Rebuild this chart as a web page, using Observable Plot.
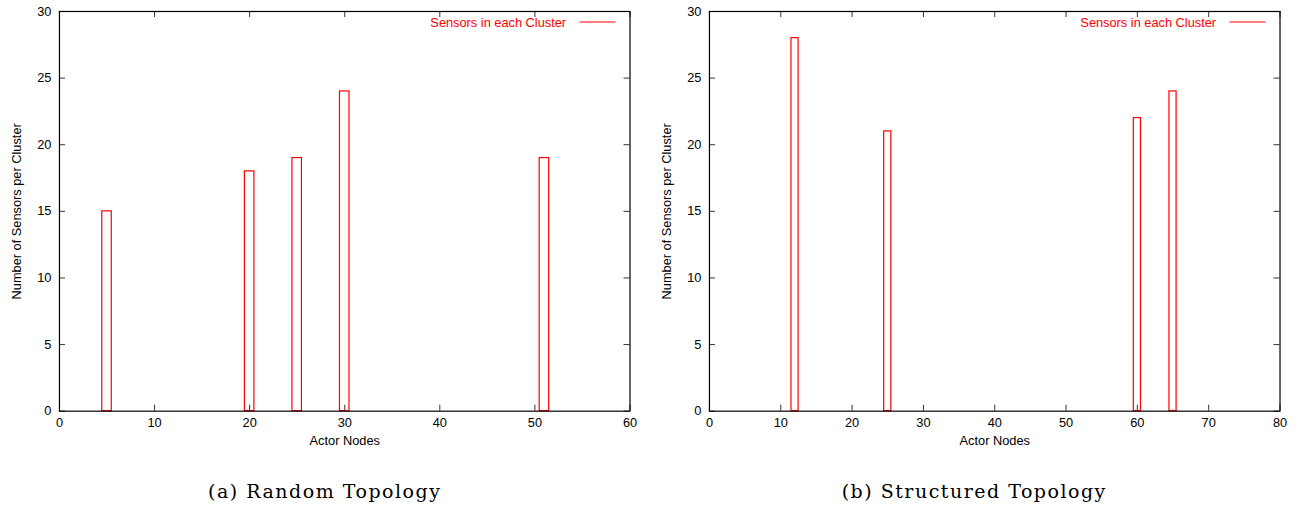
<!DOCTYPE html>
<html><head><meta charset="utf-8">
<script src="https://cdn.jsdelivr.net/npm/d3@7"></script>
<script src="https://cdn.jsdelivr.net/npm/@observablehq/plot@0.6"></script>
<style>
body{margin:0;background:#fff;}
#wrap{display:flex;width:1299px;height:508px;}
.panel{width:649.5px;flex:none;}
.panel svg{display:block;}
.cap{font-family:"DejaVu Serif","Liberation Serif",serif;font-size:19px;letter-spacing:1.5px;line-height:24px;padding-top:19px;text-align:center;color:#000;}
</style></head><body><div id="wrap"></div>
<script>
const randomActors = [5, 20, 25, 30, 51];
const randomSensors = [15, 18, 19, 24, 19];
const structuredActors = [12, 25, 60, 65];
const structuredSensors = [28, 21, 22, 24];
const randomXTicks = [0, 10, 20, 30, 40, 50, 60];
const structuredXTicks = [0, 10, 20, 30, 40, 50, 60, 70, 80];
const yTicks = [0, 5, 10, 15, 20, 25, 30];
const xLabel = "Actor Nodes";
const yLabel = "Number of Sensors per Cluster";
const legendLabel = "Sensors in each Cluster";
const captions = ["(a) Random Topology", "(b) Structured Topology"];

const W = 650, H = 460, mL = 59, mR = 20, mT = 11, mB = 49;
const plotW = W - mL - mR, plotH = H - mT - mB;
const tick = 6;

function panel(actors, sensors, xTicks, caption) {
  const data = actors.map((a, i) => ({actor: a, sensors: sensors[i]}));
  const xMax = xTicks[xTicks.length - 1];
  const yMax = yTicks[yTicks.length - 1];
  const legendLine = (index, scales, values, dims) => {
    const r = dims.width - dims.marginRight;
    return d3.create("svg:line")
      .attr("x1", r - 50).attr("x2", r - 14)
      .attr("y1", dims.marginTop + 11).attr("y2", dims.marginTop + 11)
      .attr("stroke", "red").attr("stroke-width", 1.2).node();
  };
  const chart = Plot.plot({
    width: W, height: H,
    marginLeft: mL, marginRight: mR, marginTop: mT, marginBottom: mB,
    style: {fontFamily: "'Liberation Sans', Arial, sans-serif", fontSize: "12.8px", color: "#000", background: "white"},
    x: {domain: [0, xMax]},
    y: {domain: [0, yMax]},
    marks: [
      Plot.tickX(xTicks, {x: d => d, insetTop: plotH - tick, stroke: "#333"}),
      Plot.tickX(xTicks, {x: d => d, insetBottom: plotH - tick, stroke: "#333"}),
      Plot.tickY(yTicks, {y: d => d, insetRight: plotW - tick, stroke: "#333"}),
      Plot.tickY(yTicks, {y: d => d, insetLeft: plotW - tick, stroke: "#333"}),
      Plot.rectY(data, {x1: d => d.actor - 0.5, x2: d => d.actor + 0.5, y1: 0, y2: "sensors", fill: "none", stroke: "red", strokeWidth: 1.2}),
      Plot.frame({stroke: "#000", strokeWidth: 1.2}),
      Plot.axisX(xTicks, {tickSize: 0, tickPadding: 7, label: xLabel, labelAnchor: "center", labelOffset: 34, labelArrow: "none"}),
      Plot.axisY(yTicks, {tickSize: 0, tickPadding: 8, label: yLabel, labelAnchor: "center", labelOffset: 48, labelArrow: "none"}),
      Plot.text([legendLabel], {frameAnchor: "top-right", dx: -64, dy: 11, lineAnchor: "middle", textAnchor: "end", fill: "red", text: d => d, fontSize: 12.8}),
      legendLine
    ]
  });
  const div = document.createElement("div");
  div.className = "panel";
  div.appendChild(chart);
  const cap = document.createElement("div");
  cap.className = "cap";
  cap.textContent = caption;
  div.appendChild(cap);
  document.getElementById("wrap").appendChild(div);
}

panel(randomActors, randomSensors, randomXTicks, captions[0]);
panel(structuredActors, structuredSensors, structuredXTicks, captions[1]);
</script>
</body></html>
